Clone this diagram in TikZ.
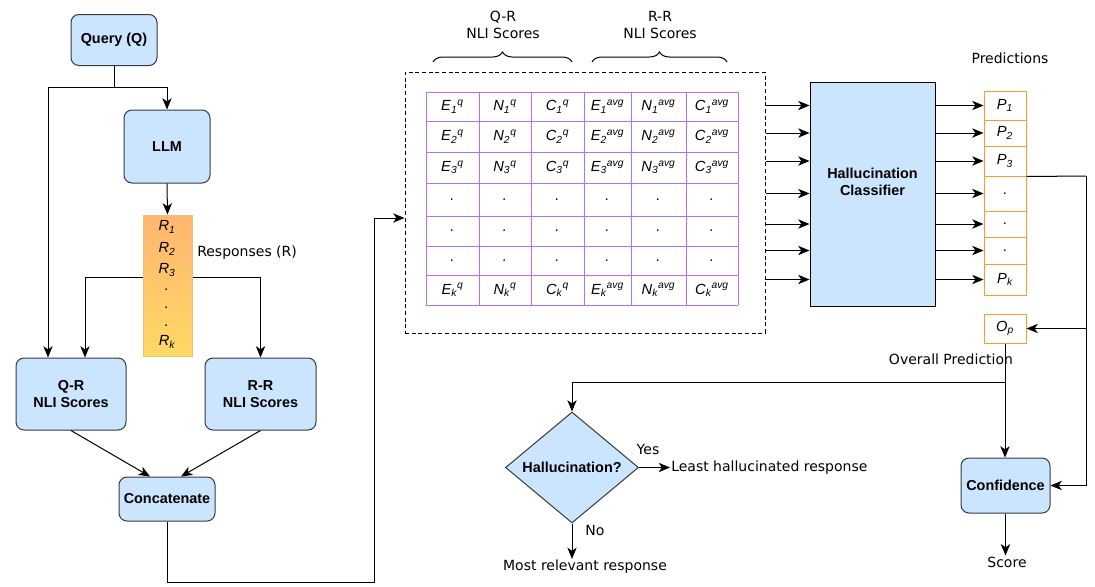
\documentclass[tikz,border=0pt]{standalone}
\usepackage{fontspec}
\setmainfont{Liberation Sans}
\newfontfamily\labelfont{DejaVu Sans}
\usetikzlibrary{arrows.meta,shapes.geometric,decorations.pathreplacing}

\definecolor{boxblue}{RGB}{204,229,255}
\definecolor{boxline}{RGB}{54,57,61}
\definecolor{gridpurple}{RGB}{178,110,255}
\definecolor{predorange}{RGB}{255,153,51}
\definecolor{resptop}{RGB}{255,181,112}
\definecolor{respbot}{RGB}{255,217,102}
\definecolor{respline}{RGB}{232,196,110}

\tikzset{
  block/.style={draw=boxline, fill=boxblue, rounded corners=6pt, line width=0.75pt,
    font=\fontsize{10.8}{13}\selectfont\bfseries, align=center, inner sep=0pt},
  arr/.style={-{Stealth[length=8.5pt,width=7pt,inset=2.4pt]}, line width=0.75pt},
  plain/.style={font=\labelfont\fontsize{10.5}{12.5}\selectfont, inner sep=0.75pt, align=center},
  cell/.style={font=\fontsize{11}{12}\selectfont\itshape, inner sep=0pt},
  pred/.style={draw=predorange, line width=0.75pt, minimum width=31.5pt, inner sep=0pt,
    font=\fontsize{11}{12}\selectfont\itshape},
}

\begin{document}
\begin{tikzpicture}[x=0.75pt,y=0.75pt,yscale=-1,xscale=1]
\useasboundingbox (0,0) rectangle (1095,586);

% left column
\node [block, minimum width=64.5pt, minimum height=38.25pt] (query) at (114,40) {Query (Q)};
\node [block, minimum width=64.5pt, minimum height=54.75pt] (llm) at (167,146.5) {LLM};
\node [draw=respline, top color=resptop, bottom color=respbot, line width=0.75pt,
  minimum width=36.75pt, minimum height=105.75pt, inner sep=0pt] (resp) at (167.5,285.5) {};
\node [block, minimum width=82.5pt, minimum height=54pt] (qr) at (71,394) {Q-R\\NLI Scores};
\node [block, minimum width=83.25pt, minimum height=54pt] (rr) at (260.5,394) {R-R\\NLI Scores};
\node [block, minimum width=72pt, minimum height=33pt] (concat) at (167,499) {Concatenate};

% responses
\node [cell] (r1) at (167,227) {R\textsubscript{1}};
\node [cell] (r2) at (167,249) {R\textsubscript{2}};
\node [cell] (r3) at (167,270) {R\textsubscript{3}};
\node [cell] (rd1) at (167,290) {.};
\node [cell] (rd2) at (167,308) {.};
\node [cell] (rd3) at (167,326) {.};
\node [cell] (rk) at (167,342) {R\textsubscript{k}};
\node [plain, anchor=west] (resplabel) at (196,253) {Responses (R)};

\coordinate (qsplit) at (114,87);
\draw [line width=0.75pt] (query.south) -- (qsplit);
\draw [arr] (qsplit) -| (llm.north);
\draw [arr] (qsplit) -| (qr.north -| 48,0);
\draw [arr] (llm.south) -- (resp.north);
\draw [arr] (resp.west |- 0,277) -| (qr.north -| 85,0);
\draw [arr] (resp.east |- 0,277) -| (rr.north);
\draw [arr] (qr.south) -- (concat.north -| 150,0);
\draw [arr] (rr.south) -- (concat.north -| 181,0);

% NLI score table
\node [draw, dashed, dash pattern=on 3pt off 2pt, line width=0.75pt, minimum width=270pt,
  minimum height=195.75pt, inner sep=0pt] (nli) at (585,202.5) {};
\draw [arr] (concat.south) |- (374,582) |- (nli.west |- 0,218);

\draw [gridpurple, line width=0.75pt] (426,92) -- (738,92);
\draw [gridpurple, line width=0.75pt] (426,121) -- (738,121);
\draw [gridpurple, line width=0.75pt] (426,152) -- (738,152);
\draw [gridpurple, line width=0.75pt] (426,183) -- (738,183);
\draw [gridpurple, line width=0.75pt] (426,216) -- (738,216);
\draw [gridpurple, line width=0.75pt] (426,246) -- (738,246);
\draw [gridpurple, line width=0.75pt] (426,275) -- (738,275);
\draw [gridpurple, line width=0.75pt] (426,305) -- (738,305);
\draw [gridpurple, line width=0.75pt] (426,92) -- (426,305);
\draw [gridpurple, line width=0.75pt] (479,92) -- (479,305);
\draw [gridpurple, line width=0.75pt] (531,92) -- (531,305);
\draw [gridpurple, line width=0.75pt] (584,92) -- (584,305);
\draw [gridpurple, line width=0.75pt] (631,92) -- (631,305);
\draw [gridpurple, line width=0.75pt] (686,92) -- (686,305);
\draw [gridpurple, line width=0.75pt] (738,92) -- (738,305);

\node [cell] (e1) at (452.5,106.5) {E\textsubscript{1}\textsuperscript{q}};
\node [cell] (n1) at (505,106.5) {N\textsubscript{1}\textsuperscript{q}};
\node [cell] (c1) at (557.5,106.5) {C\textsubscript{1}\textsuperscript{q}};
\node [cell] (ea1) at (607.5,106.5) {E\textsubscript{1}\textsuperscript{avg}};
\node [cell] (na1) at (658.5,106.5) {N\textsubscript{1}\textsuperscript{avg}};
\node [cell] (ca1) at (712,106.5) {C\textsubscript{1}\textsuperscript{avg}};

\node [cell] (e2) at (452.5,136.5) {E\textsubscript{2}\textsuperscript{q}};
\node [cell] (n2) at (505,136.5) {N\textsubscript{2}\textsuperscript{q}};
\node [cell] (c2) at (557.5,136.5) {C\textsubscript{2}\textsuperscript{q}};
\node [cell] (ea2) at (607.5,136.5) {E\textsubscript{2}\textsuperscript{avg}};
\node [cell] (na2) at (658.5,136.5) {N\textsubscript{2}\textsuperscript{avg}};
\node [cell] (ca2) at (712,136.5) {C\textsubscript{2}\textsuperscript{avg}};

\node [cell] (e3) at (452.5,167.5) {E\textsubscript{3}\textsuperscript{q}};
\node [cell] (n3) at (505,167.5) {N\textsubscript{3}\textsuperscript{q}};
\node [cell] (c3) at (557.5,167.5) {C\textsubscript{3}\textsuperscript{q}};
\node [cell] (ea3) at (607.5,167.5) {E\textsubscript{3}\textsuperscript{avg}};
\node [cell] (na3) at (658.5,167.5) {N\textsubscript{3}\textsuperscript{avg}};
\node [cell] (ca3) at (712,167.5) {C\textsubscript{3}\textsuperscript{avg}};

\node [cell] (d41) at (452.5,199.5) {.};
\node [cell] (d42) at (505,199.5) {.};
\node [cell] (d43) at (557.5,199.5) {.};
\node [cell] (d44) at (607.5,199.5) {.};
\node [cell] (d45) at (658.5,199.5) {.};
\node [cell] (d46) at (712,199.5) {.};

\node [cell] (d51) at (452.5,231) {.};
\node [cell] (d52) at (505,231) {.};
\node [cell] (d53) at (557.5,231) {.};
\node [cell] (d54) at (607.5,231) {.};
\node [cell] (d55) at (658.5,231) {.};
\node [cell] (d56) at (712,231) {.};

\node [cell] (d61) at (452.5,260.5) {.};
\node [cell] (d62) at (505,260.5) {.};
\node [cell] (d63) at (557.5,260.5) {.};
\node [cell] (d64) at (607.5,260.5) {.};
\node [cell] (d65) at (658.5,260.5) {.};
\node [cell] (d66) at (712,260.5) {.};

\node [cell] (ek) at (452.5,290) {E\textsubscript{k}\textsuperscript{q}};
\node [cell] (nk) at (505,290) {N\textsubscript{k}\textsuperscript{q}};
\node [cell] (ck) at (557.5,290) {C\textsubscript{k}\textsuperscript{q}};
\node [cell] (eak) at (607.5,290) {E\textsubscript{k}\textsuperscript{avg}};
\node [cell] (nak) at (658.5,290) {N\textsubscript{k}\textsuperscript{avg}};
\node [cell] (cak) at (712,290) {C\textsubscript{k}\textsuperscript{avg}};

% braces
\draw [decorate, decoration={brace, amplitude=7.5pt}, line width=0.75pt] (433,62) -- (572,62);
\draw [decorate, decoration={brace, amplitude=7.5pt}, line width=0.75pt] (592,62) -- (727,62);
\node [plain] (qrlabel) at (503,25) {Q-R\\NLI Scores};
\node [plain] (rrlabel) at (660,25) {R-R\\NLI Scores};

% classifier and predictions
\node [draw, fill=boxblue, line width=0.75pt, minimum width=93.75pt, minimum height=168pt,
  inner sep=0pt] (clf) at (872.5,194) {};
\node [font=\fontsize{10.8}{13}\selectfont\bfseries, align=center, inner sep=0pt] (clflabel) at (872.5,182) {Hallucination\\Classifier};

\node [pred, minimum height=21.75pt] (p1) at (1005,105.5) {P\textsubscript{1}};
\node [pred, minimum height=19.5pt] (p2) at (1005,133) {P\textsubscript{2}};
\node [pred, minimum height=22.5pt] (p3) at (1005,161) {P\textsubscript{3}};
\node [pred, minimum height=26.25pt, font=\fontsize{11}{12}\selectfont] (pd1) at (1005,193.5) {.};
\node [pred, minimum height=19.5pt, font=\fontsize{11}{12}\selectfont] (pd2) at (1005,224) {.};
\node [pred, minimum height=20.25pt, font=\fontsize{11}{12}\selectfont] (pd3) at (1005,250.5) {.};
\node [pred, minimum height=23.25pt] (pk) at (1005,279.5) {P\textsubscript{k}};
\node [plain] (predlabel) at (1010,58) {Predictions};

\draw [arr] (nli.east |- p1) -- (clf.west |- p1);
\draw [arr] (nli.east |- p2) -- (clf.west |- p2);
\draw [arr] (nli.east |- p3) -- (clf.west |- p3);
\draw [arr] (nli.east |- pd1) -- (clf.west |- pd1);
\draw [arr] (nli.east |- pd2) -- (clf.west |- pd2);
\draw [arr] (nli.east |- pd3) -- (clf.west |- pd3);
\draw [arr] (nli.east |- pk) -- (clf.west |- pk);

\draw [arr] (clf.east |- p1) -- (p1.west);
\draw [arr] (clf.east |- p2) -- (p2.west);
\draw [arr] (clf.east |- p3) -- (p3.west);
\draw [arr] (clf.east |- pd1) -- (pd1.west);
\draw [arr] (clf.east |- pd2) -- (pd2.west);
\draw [arr] (clf.east |- pd3) -- (pd3.west);
\draw [arr] (clf.east |- pk) -- (pk.west);

% overall prediction
\node [pred, minimum height=21.75pt] (op) at (1005,328.5) {O\textsubscript{p}};
\node [plain] (oplabel) at (951,359) {Overall Prediction};
\node [block, minimum width=66.75pt, minimum height=41.25pt] (conf) at (1005.5,485.5) {Confidence};
\node [plain] (score) at (1007,562) {Score};

\coordinate (rt) at (1086,176);
\draw [line width=0.75pt] (p3.south east) -- (rt);
\draw [arr] (rt) |- (op.east);
\draw [arr] (rt) |- (conf.east);
\draw [arr] (op.south) -- (conf.north -| op.south);
\draw [arr] (conf.south) -- (score.north -| conf.south);

% decision
\node [diamond, draw=boxline, fill=boxblue, line width=0.75pt, aspect=1.2, inner sep=0pt,
  minimum width=99.75pt, minimum height=83.25pt,
  font=\fontsize{10.8}{13}\selectfont\bfseries] (hal) at (572,467.5) {Hallucination?};
\coordinate (osplit) at (1005,382);
\draw [arr] (osplit) -| (hal.north);
\node [plain, anchor=west] (least) at (670,467.5) {Least hallucinated response};
\node [plain] (yes) at (648,449) {Yes};
\draw [arr] (hal.east) -- (least.west);
\node [plain] (most) at (585,567) {Most relevant response};
\node [plain] (no) at (595,530) {No};
\draw [arr] (hal.south) -- (hal.south |- most.north);

\end{tikzpicture}
\end{document}
